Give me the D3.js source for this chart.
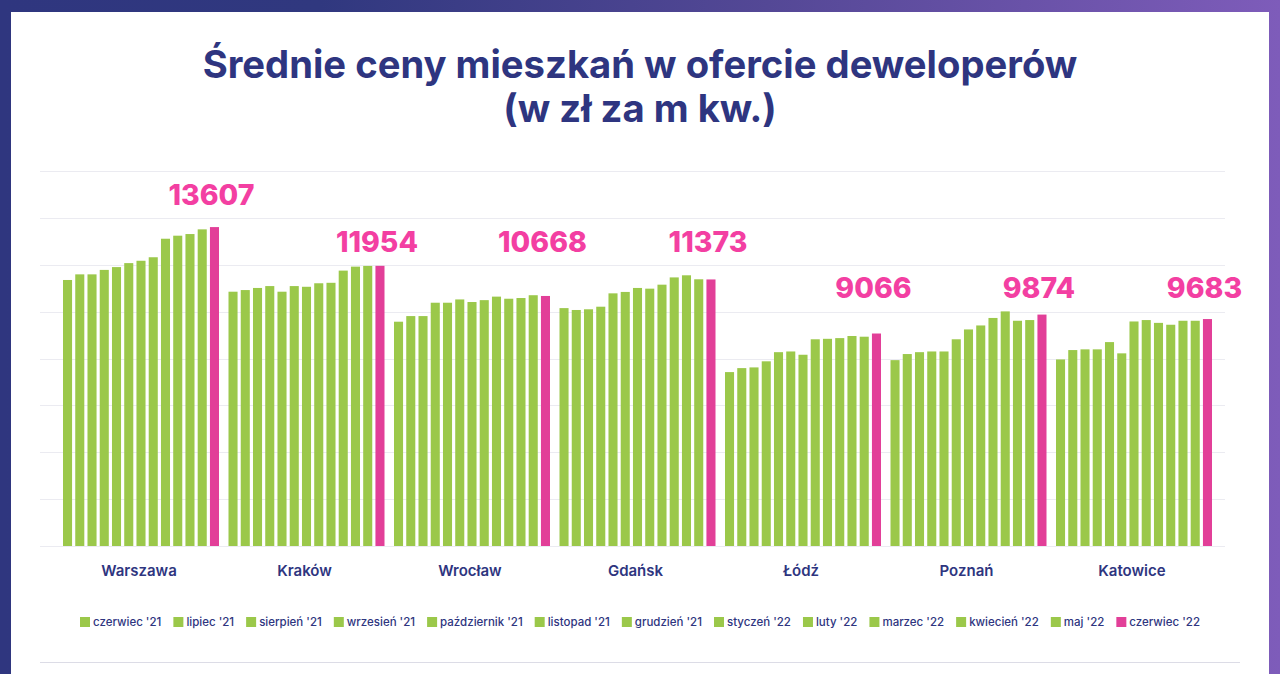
<!DOCTYPE html>
<html>
<head>
<meta charset="utf-8">
<script src="https://cdn.jsdelivr.net/npm/d3@7"></script>
<style>
  html, body { margin: 0; padding: 0; background: #fff; }
  svg { display: block; }
  text { font-family: Inter, "Open Sans", sans-serif; }
</style>
</head>
<body>
<svg id="chart" width="1280" height="674"></svg>
<script>
// ---- Data ----
const titleLines = ["Średnie ceny mieszkań w ofercie deweloperów", "(w zł za m kw.)"];
const cities = ["Warszawa", "Kraków", "Wrocław", "Gdańsk", "Łódź", "Poznań", "Katowice"];
const months = ["czerwiec '21", "lipiec '21", "sierpień '21", "wrzesień '21", "październik '21",
  "listopad '21", "grudzień '21", "styczeń '22", "luty '22", "marzec '22", "kwiecień '22",
  "maj '22", "czerwiec '22"];
const warszawa = [11350, 11590, 11590, 11780, 11900, 12070, 12170, 12320, 13110, 13240, 13310, 13510, 13607];
const krakow   = [10850, 10920, 11010, 11090, 10850, 11090, 11060, 11210, 11230, 11750, 11920, 11950, 11954];
const wroclaw  = [9570, 9810, 9810, 10380, 10380, 10520, 10410, 10490, 10640, 10550, 10580, 10700, 10668];
const gdansk   = [10150, 10070, 10100, 10210, 10780, 10840, 11010, 10980, 11150, 11460, 11550, 11380, 11373];
const lodz     = [7420, 7590, 7620, 7880, 8270, 8300, 8160, 8820, 8840, 8870, 8960, 8930, 9066];
const poznan   = [7930, 8190, 8270, 8300, 8300, 8820, 9240, 9410, 9730, 10010, 9610, 9640, 9874];
const katowice = [7960, 8360, 8390, 8390, 8700, 8220, 9580, 9640, 9520, 9440, 9610, 9610, 9683];
const cityValues = [warszawa, krakow, wroclaw, gdansk, lodz, poznan, katowice];
const yTicks = [0, 2000, 4000, 6000, 8000, 10000, 12000, 14000, 16000];

// ---- Styles ----
const navy = "#2e3580";
const green = "#9bc84a";
const pinkBar = "#e23f98";
const pinkText = "#f33fa2";

const svg = d3.select("#chart");

// Frame with gradient border
const defs = svg.append("defs");
const grad = defs.append("linearGradient").attr("id", "frame").attr("x1", "0").attr("x2", "1").attr("y1", "0").attr("y2", "0");
grad.append("stop").attr("offset", "0").attr("stop-color", "#2f367f");
grad.append("stop").attr("offset", "0.25").attr("stop-color", "#30387f");
grad.append("stop").attr("offset", "0.6").attr("stop-color", "#544896");
grad.append("stop").attr("offset", "1").attr("stop-color", "#7e5cba");
svg.append("rect").attr("x", 0).attr("y", 0).attr("width", 1280).attr("height", 674).attr("fill", "url(#frame)");
svg.append("rect").attr("x", 11).attr("y", 12).attr("width", 1258).attr("height", 662).attr("fill", "#fff");

// Title
const titleG = svg.append("g");
const t1 = titleG.append("text").attr("x", 640).attr("y", 78).attr("text-anchor", "middle")
  .attr("fill", navy).attr("font-weight", 700).attr("font-size", 36).text(titleLines[0]);
const w1 = t1.node().getComputedTextLength();
const titleSize = 36 * 875 / w1;
t1.attr("font-size", titleSize);
titleG.append("text").attr("x", 640).attr("y", 122).attr("text-anchor", "middle")
  .attr("fill", navy).attr("font-weight", 700).attr("font-size", titleSize).text(titleLines[1]);

// Scales
const y = d3.scaleLinear().domain([0, 16000]).range([546, 171]);
const x0 = d3.scaleBand().domain(cities).range([63, 1212]).paddingInner(0.0574).paddingOuter(0);
const x1 = d3.scaleBand().domain(months).range([0, x0.bandwidth()]).paddingInner(0.26).paddingOuter(0);

// Gridlines
svg.append("g").selectAll("line").data(yTicks).join("line")
  .attr("x1", 40).attr("x2", 1225)
  .attr("y1", d => Math.round(y(d)) + 0.5).attr("y2", d => Math.round(y(d)) + 0.5)
  .attr("stroke", "#ebebf1").attr("stroke-width", 1);

// Bars
const groups = svg.append("g").selectAll("g").data(cities).join("g")
  .attr("transform", d => `translate(${x0(d)},0)`);
groups.selectAll("rect").data((c, i) => cityValues[i].map((v, j) => ({ m: months[j], v, last: j === months.length - 1 })))
  .join("rect")
  .attr("x", d => x1(d.m))
  .attr("width", x1.bandwidth())
  .attr("y", d => y(d.v))
  .attr("height", d => y(0) - y(d.v))
  .attr("fill", d => d.last ? pinkBar : green);

// Value labels above last bar (centered in the grid band above the value's band)
const valLabels = groups.append("text")
  .attr("x", () => x1(months[months.length - 1]) + x1.bandwidth() / 2 - 3)
  .attr("y", (c, i) => {
    const v = cityValues[i][months.length - 1];
    return y((Math.floor(v / 2000) + 1.5) * 2000);
  })
  .attr("dy", "0.36em")
  .attr("text-anchor", "middle")
  .attr("fill", pinkText).attr("font-weight", 800).attr("font-size", 30)
  .text((c, i) => cityValues[i][months.length - 1]);
const wv = valLabels.nodes()[0].getComputedTextLength();
valLabels.attr("font-size", 30 * 86 / wv);

// City labels
svg.append("g").selectAll("text").data(cities).join("text")
  .attr("x", d => x0(d) + x0.bandwidth() / 2 - 2)
  .attr("y", 571).attr("dy", "0.36em").attr("text-anchor", "middle")
  .attr("fill", navy).attr("font-weight", 600).attr("font-size", 15)
  .text(d => d);

// Legend
const legend = svg.append("g");
const items = legend.selectAll("g").data(months).join("g");
items.append("rect").attr("width", 10).attr("height", 10).attr("y", -5)
  .attr("fill", (d, i) => i === months.length - 1 ? pinkBar : green);
const ltexts = items.append("text").attr("x", 13).attr("dy", "0.36em")
  .attr("fill", navy).attr("font-size", 11.5).attr("font-weight", 500).text(d => d);
const widths = ltexts.nodes().map(n => 13 + n.getComputedTextLength());
const totalW = 1120;
const gap = (totalW - d3.sum(widths)) / (months.length - 1);
let cx = 80;
items.attr("transform", (d, i) => {
  const t = `translate(${cx},622)`;
  cx += widths[i] + gap;
  return t;
});

// Bottom separator
svg.append("line").attr("x1", 40).attr("x2", 1240).attr("y1", 662.5).attr("y2", 662.5)
  .attr("stroke", "#dcdce6").attr("stroke-width", 1);
</script>
</body>
</html>
